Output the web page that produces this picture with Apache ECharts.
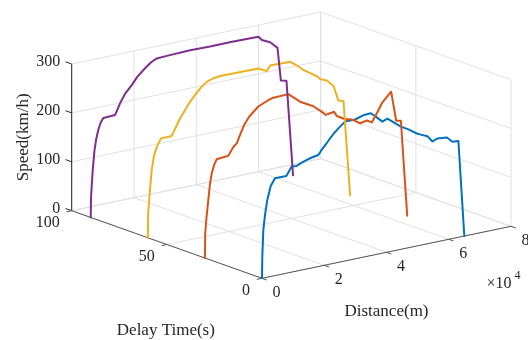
<!DOCTYPE html>
<html><head><meta charset="utf-8">
<script src="https://cdn.jsdelivr.net/npm/echarts@6/dist/echarts.min.js"></script>
<style>html,body{margin:0;padding:0;background:#fff}#c{width:528px;height:340px}</style>
</head><body><div id="c"></div>
<script>
// ---------------- data ----------------
const delayTimes = [0, 30, 60, 90];            // s (one train per delay)
const seriesNames = ['Delay 0 s', 'Delay 30 s', 'Delay 60 s', 'Delay 90 s'];

const dist0  = [0,100,420,1000,1700,2800,4180,7810,9550,11160,12500,14370,16200,18100,19500,20800,22000,23000,24530,26690,29900,32800,34950,36560,38680,40290,44600,47040,49740,51030,53150,54760,56370,59390,61200,63100,65000];
const speed0 = [0,45,98,130,158,185,199,199,216,215,219,223,226,228,240,249,258,265,274,285,285,290.5,291,282,269,273,251,242,230,226,220,207,211,209,198,197,0];

const dist30  = [0,100,500,1090,1600,2190,3000,3790,7520,9130,10220,11300,12350,12890,14200,15560,17170,18780,20930,22000,26800,30580,34860,37560,38850,41510,42380,45050,46600,47720,49870,52030,53630,55240,56850,59840,61450,62960,65000];
const speed30 = [0,50,82,117,148,170,187,197,199,215,221,237,252,258,270,278,287,291.5,297,298.5,299.5,279,264,249,241,244,234,224,222,219,209,212,206,222.5,241,260.5,199,197,0];

const dist60  = [0,100,600,1250,2000,2860,4240,7680,10350,13570,15500,17330,19000,21060,23220,35530,38230,39290,45720,48000,50000,51300,53220,54500,55370,57520,59650,61250,62860,65000];
const speed60 = [0,48,90,137,165,182,197.6,198,230,260,274,286,294,298,300,299,290,300,299,288,276.5,271,263,257,251,245,231,199,196,0];

const dist90  = [0,100,640,1200,1700,2440,3200,4050,7810,9420,11000,13180,15000,17460,19500,21220,24440,31930,38360,45000,53890,54970,57650,60000,61090,62890,65000];
const speed90 = [0,42,96,135,156,176,190,198,199,221,238,253,268,282,292,297,298,299.5,298.5,299,298,290,281.6,267,199,196,0];

const distTicks = [0, 20000, 40000, 60000, 80000];
const distTickLabels = ['0', '2', '4', '6', '8'];
const delayTicks = [0, 50, 100];
const delayTickLabels = ['0', '50', '100'];
const speedTicks = [0, 100, 200, 300];
const speedTickLabels = ['0', '100', '200', '300'];

// ---------------- view (orthographic projection onto the plot plane) ----------------
const O  = [262, 278.3];                 // screen-plane position of (0,0,0)
const EX = [249 / 80000, -52 / 80000];   // per metre of distance
const EY = [-190.3 / 100, -67.6 / 100];  // per second of delay
const EZ = [0, -146.7 / 300];            // per km/h
function proj(s, d, v) {
  return [O[0] + EX[0] * s + EY[0] * d + EZ[0] * v,
          O[1] + EX[1] * s + EY[1] * d + EZ[1] * v];
}
const FONT = '"Liberation Serif", "Times New Roman", serif';
const TXT = '#262626';

// grid segments
const gridSegs = [];
distTicks.forEach(s => { gridSegs.push([[s, 0, 0], [s, 100, 0]]); gridSegs.push([[s, 100, 0], [s, 100, 300]]); });
delayTicks.forEach(d => { gridSegs.push([[0, d, 0], [80000, d, 0]]); gridSegs.push([[80000, d, 0], [80000, d, 300]]); });
speedTicks.forEach(v => { gridSegs.push([[0, 100, v], [80000, 100, v]]); gridSegs.push([[80000, 0, v], [80000, 100, v]]); });

// axis segments with tick marks (tick dir in screen px)
const axisSegs = [
  { a: [0, 100, 0], b: [0, 100, 300], color: '#262626', w: 1 },
  { a: [0, 0, 0], b: [0, 100, 0], color: '#555', w: 1 },
  { a: [0, 0, 0], b: [80000, 0, 0], color: '#555', w: 1 }
];
const tickMarks = [];
speedTicks.forEach(v => tickMarks.push({ p: [0, 100, v], dx: -6.2, dy: -2.2, color: '#262626' }));
delayTicks.forEach(d => tickMarks.push({ p: [0, d, 0], dx: -5.2, dy: 1.1, color: '#555' }));
distTicks.forEach(s => tickMarks.push({ p: [s, 0, 0], dx: 4.8, dy: 1.7, color: '#555' }));

// text items
const texts = [];
speedTicks.forEach((v, i) => texts.push({ p: [0, 100, v], t: speedTickLabels[i], dx: -11.5, dy: -2, align: 'right', size: 16 }));
delayTicks.forEach((d, i) => texts.push({ p: [0, d, 0], t: delayTickLabels[i], dx: -12, dy: 12.5, align: 'right', size: 16 }));
distTicks.forEach((s, i) => texts.push({ p: [s, 0, 0], t: distTickLabels[i], dx: 14.5, dy: 14.8, align: 'center', size: 16 }));
texts.push({ p: [80000, 0, 0], t: '\u00d710', dx: -24.5, dy: 57.5, align: 'left', size: 16 });
texts.push({ p: [80000, 0, 0], t: '4', dx: 3.5, dy: 49.5, align: 'left', size: 12 });
texts.push({ p: [0, 50, 0], t: 'Delay Time(s)', dx: -1, dy: 86.5, align: 'center', size: 17 });
texts.push({ p: [40000, 0, 0], t: 'Distance(m)', dx: 0, dy: 59, align: 'center', size: 17 });
texts.push({ p: [0, 100, 150], t: 'Speed(km/h)', dx: -48.5, dy: 0, align: 'center', size: 17, rot: Math.PI / 2 });

function trainSeries(k, dist, speed, color) {
  return {
    type: 'line', name: seriesNames[k], data: dist.map((s, i) => proj(s, delayTimes[k], speed[i])),
    showSymbol: false, symbol: 'none', smooth: false, animation: false, silent: true,
    lineStyle: { color: color, width: 2, join: 'round', cap: 'round' }, z: 5 + k
  };
}

const chart = echarts.init(document.getElementById('c'), null, { renderer: 'canvas' });
chart.setOption({
  animation: false,
  grid: { left: 0, right: 0, top: 0, bottom: 0 },
  xAxis: { type: 'value', min: 0, max: 528, show: false },
  yAxis: { type: 'value', min: 0, max: 340, inverse: true, show: false },
  series: [
    {
      type: 'custom', silent: true, z: 1,
      data: gridSegs.map(g => proj.apply(null, g[0]).concat(proj.apply(null, g[1]))),
      renderItem: (params, api) => {
        const a = api.coord([api.value(0), api.value(1)]), b = api.coord([api.value(2), api.value(3)]);
        return { type: 'line', shape: { x1: a[0], y1: a[1], x2: b[0], y2: b[1] }, style: { stroke: '#e0e0e0', lineWidth: 1 } };
      }
    },
    {
      type: 'custom', silent: true, z: 2,
      data: axisSegs.map(g => proj.apply(null, g.a).concat(proj.apply(null, g.b))),
      renderItem: (params, api) => {
        const a = api.coord([api.value(0), api.value(1)]), b = api.coord([api.value(2), api.value(3)]);
        const g = axisSegs[params.dataIndex];
        return { type: 'line', shape: { x1: a[0], y1: a[1], x2: b[0], y2: b[1] }, style: { stroke: g.color, lineWidth: g.w } };
      }
    },
    {
      type: 'custom', silent: true, z: 2,
      data: tickMarks.map(t => proj.apply(null, t.p)),
      renderItem: (params, api) => {
        const a = api.coord([api.value(0), api.value(1)]);
        const t = tickMarks[params.dataIndex];
        return { type: 'line', shape: { x1: a[0], y1: a[1], x2: a[0] + t.dx, y2: a[1] + t.dy }, style: { stroke: t.color, lineWidth: 1 } };
      }
    },
    trainSeries(3, dist90, speed90, '#7E2F8E'),
    trainSeries(2, dist60, speed60, '#EDB120'),
    trainSeries(1, dist30, speed30, '#D95319'),
    trainSeries(0, dist0, speed0, '#0072BD'),
    {
      type: 'custom', silent: true, z: 20,
      data: texts.map(t => proj.apply(null, t.p)),
      renderItem: (params, api) => {
        const a = api.coord([api.value(0), api.value(1)]);
        const t = texts[params.dataIndex];
        return {
          type: 'text', x: a[0] + t.dx, y: a[1] + t.dy, rotation: t.rot || 0,
          style: { text: t.t, fontSize: t.size, fontFamily: FONT, fill: TXT, align: t.align, verticalAlign: 'middle' }
        };
      }
    }
  ]
});
</script>
</body></html>
